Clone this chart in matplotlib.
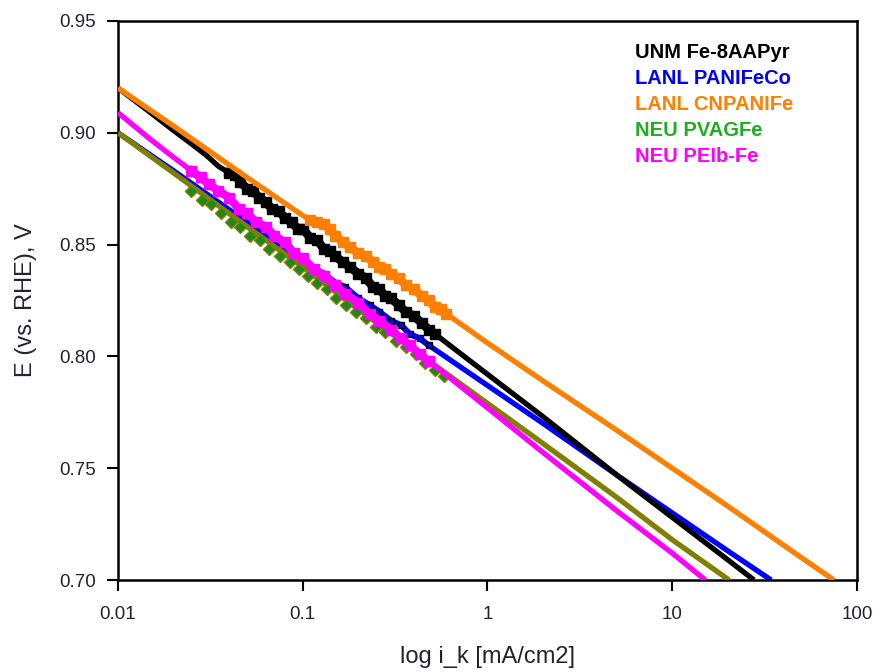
import matplotlib
matplotlib.use("Agg")
import numpy as np
import matplotlib.pyplot as plt

plt.rcParams["font.family"] = ["Liberation Sans", "DejaVu Sans"]

# =========================
# DATA  (kinetic current i_k in mA/cm2, E in V vs RHE)
# =========================
unm_i = [0.01, 0.015, 0.02, 0.025, 0.03, 0.035,
         0.040, 0.043, 0.046, 0.05, 0.054, 0.058, 0.063, 0.068, 0.074, 0.08,
         0.087, 0.094, 0.1, 0.11, 0.12, 0.13, 0.14, 0.15, 0.165, 0.18,
         0.2, 0.22, 0.24, 0.26, 0.28, 0.3, 0.33, 0.36, 0.4, 0.44,
         0.48, 0.52, 1, 2, 5, 10, 20, 27.7]
unm_E = [0.920, 0.909, 0.901, 0.895, 0.890, 0.885,
         0.882, 0.881, 0.878, 0.875, 0.874, 0.871, 0.869, 0.866, 0.865, 0.862,
         0.860, 0.857, 0.857, 0.853, 0.852, 0.848, 0.847, 0.845, 0.842, 0.840,
         0.837, 0.835, 0.831, 0.830, 0.827, 0.826, 0.823, 0.820, 0.818, 0.815,
         0.812, 0.810, 0.792, 0.773, 0.747, 0.728, 0.709, 0.700]

panifeco_i = [0.01, 0.02, 0.05, 0.1, 0.13, 0.15, 0.17, 0.2, 0.23, 0.26, 0.3,
              0.34, 0.38, 0.43, 0.48, 1, 2, 5, 10, 20, 34.3]
panifeco_E = [0.900, 0.883, 0.860, 0.843, 0.837, 0.833, 0.831, 0.826, 0.823, 0.820, 0.816,
              0.814, 0.810, 0.808, 0.805, 0.787, 0.770, 0.747, 0.730, 0.713, 0.700]

cnpanife_i = [0.01, 0.02, 0.05, 0.1,
              0.11, 0.12, 0.13, 0.14, 0.15, 0.165, 0.18, 0.2, 0.22, 0.24,
              0.26, 0.28, 0.3, 0.33, 0.36, 0.4, 0.44, 0.48, 0.52, 0.56,
              0.6, 1, 2, 5, 10, 20, 50, 75]
cnpanife_E = [0.920, 0.903, 0.880, 0.863,
              0.861, 0.860, 0.859, 0.857, 0.854, 0.851, 0.849, 0.846, 0.845, 0.842,
              0.840, 0.839, 0.837, 0.835, 0.832, 0.830, 0.827, 0.825, 0.822, 0.821,
              0.819, 0.806, 0.789, 0.767, 0.750, 0.733, 0.710, 0.700]

# NEU PVAGFe: fitted line (olive) + measured points (green diamonds)
pvagfe_i = [0.01, 0.02, 0.05, 0.1, 0.2, 0.5, 1, 2, 5, 10, 20.3]
pvagfe_E = [0.900, 0.882, 0.858, 0.840, 0.821, 0.797, 0.779, 0.761, 0.737, 0.718, 0.700]
pvagfe_pts_i = [0.025, 0.0285, 0.032, 0.036, 0.041, 0.046, 0.052, 0.059, 0.066, 0.075,
                0.085, 0.095, 0.107, 0.12, 0.135, 0.152, 0.172, 0.195, 0.22, 0.25,
                0.28, 0.32, 0.36, 0.41, 0.46, 0.52, 0.58]
pvagfe_pts_E = [0.874, 0.870, 0.868, 0.864, 0.860, 0.858, 0.854, 0.852, 0.848, 0.845,
                0.842, 0.839, 0.836, 0.833, 0.830, 0.826, 0.823, 0.820, 0.817, 0.813,
                0.811, 0.807, 0.804, 0.801, 0.797, 0.794, 0.791]

peibfe_i = [0.01, 0.015, 0.02, 0.025, 0.028, 0.031, 0.035, 0.04, 0.045, 0.05,
            0.056, 0.063, 0.07, 0.08, 0.09, 0.1, 0.115, 0.13, 0.15, 0.17,
            0.2, 0.23, 0.26, 0.3, 0.34, 0.38, 0.43, 0.48, 1, 2, 5, 10, 15.1]
peibfe_E = [0.909, 0.897, 0.889, 0.883, 0.880, 0.877, 0.874, 0.871, 0.866, 0.864,
            0.860, 0.858, 0.854, 0.851, 0.846, 0.844, 0.839, 0.836, 0.832, 0.828,
            0.824, 0.819, 0.816, 0.812, 0.808, 0.805, 0.801, 0.798, 0.777, 0.757,
            0.731, 0.712, 0.700]

labels = ["UNM Fe-8AAPyr", "LANL PANIFeCo", "LANL CNPANIFe", "NEU PVAGFe", "NEU PEIb-Fe"]
label_colors = ["#000000", "#0000ff", "#ff8000", "#1fae1f", "#ff00ff"]

x_ticks = [0.01, 0.1, 1, 10, 100]
x_ticklabels = ["0.01", "0.1", "1", "10", "100"]
y_ticks = [0.70, 0.75, 0.80, 0.85, 0.90, 0.95]


# =========================
# PLOT
# =========================
fig = plt.figure(figsize=(8.77, 6.72), dpi=100)
ax = fig.add_axes([0.1345, 0.1369, 0.8427, 0.832])
LW = 3.8


def draw(i, E, color, lo, hi, mec=None, ms=6, z=2, lw_noisy=5.5):
    i = np.array(i)
    E = np.array(E)
    ax.plot(i, E, color=color, lw=LW, solid_capstyle="butt", zorder=z)
    m = (i >= lo) & (i <= hi)
    # noisy measured stretch: heavier, jagged trace
    ax.plot(i[m], E[m], color=color, lw=lw_noisy, marker="s", ms=ms,
            mfc=color, mec=mec or color, mew=1, zorder=z)


draw(panifeco_i, panifeco_E, "#0000ff", 0.13, 0.48, mec="#000000", ms=4.5, z=2, lw_noisy=4.2)
draw(unm_i, unm_E, "#000000", 0.04, 0.52, ms=7, z=3, lw_noisy=6.3)
draw(cnpanife_i, cnpanife_E, "#ff8000", 0.11, 0.6, ms=7, z=4, lw_noisy=6.3)
ax.plot(pvagfe_i, pvagfe_E, color="#808000", lw=LW, solid_capstyle="butt", zorder=5)
ax.plot(pvagfe_pts_i, pvagfe_pts_E, ls="none", marker="D", ms=6,
        mfc="#1a8a1a", mec="#808000", mew=1, zorder=5.5)
draw(peibfe_i, peibfe_E, "#ff00ff", 0.025, 0.48, ms=7, z=6, lw_noisy=6)

ax.set_xscale("log")
ax.set_xlim(0.01, 100)
ax.set_ylim(0.70, 0.95)
ax.set_xticks(x_ticks)
ax.set_xticklabels(x_ticklabels)
ax.xaxis.set_minor_locator(matplotlib.ticker.NullLocator())
ax.set_yticks(y_ticks)
ax.set_yticklabels([f"{v:.2f}" for v in y_ticks])

ax.tick_params(axis="both", direction="out", length=8, width=1.5,
               labelsize=13.5, colors="#000000", labelcolor="#222233")
ax.tick_params(axis="y", pad=8)
ax.tick_params(axis="x", pad=11)
for s in ax.spines.values():
    s.set_linewidth(1.8)

ax.set_xlabel("log i_k [mA/cm2]", fontsize=17, color="#222233", labelpad=16)
ax.set_ylabel("E (vs. RHE), V", fontsize=17, color="#222233", labelpad=16)

for k, (lab, c) in enumerate(zip(labels, label_colors)):
    ax.text(0.6996, 0.943 - k * 0.0463, lab, transform=ax.transAxes, color=c,
            fontsize=14.5, fontweight="bold", va="center", ha="left")

fig.savefig("out.png", dpi=100)
